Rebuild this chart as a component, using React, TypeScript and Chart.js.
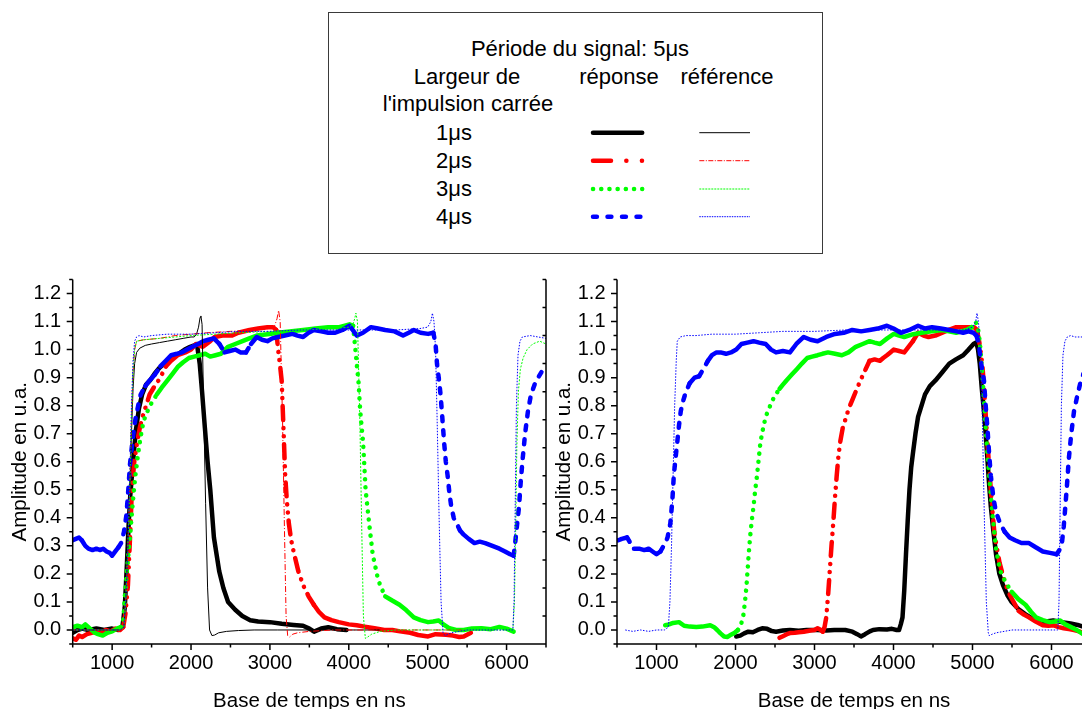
import React, { useEffect, useRef } from "react";
import { Chart, registerables } from "chart.js";

Chart.register(...registerables);

const FONT = "'Liberation Sans', Arial, Helvetica, sans-serif";

// ---- axes ----
const xRange = [500, 6500];
const yRange = [-0.05, 1.25];
const xMajorTicks = [1000, 2000, 3000, 4000, 5000, 6000];
const xMinorTicks = [500, 1500, 2500, 3500, 4500, 5500, 6500];
const yMajorTicks = [0, 0.1, 0.2, 0.3, 0.4, 0.5, 0.6, 0.7, 0.8, 0.9, 1.0, 1.1, 1.2];
const yMinorTicks = [-0.05, 0.05, 0.15, 0.25, 0.35, 0.45, 0.55, 0.65, 0.75, 0.85, 0.95, 1.05, 1.15, 1.25];

const xTitle = "Base de temps en ns";
const yTitle = "Amplitude en u.a.";
const legendTitle = "Période du signal: 5μs";
const legendHeadA = "Largeur de";
const legendHeadB = "l'impulsion carrée";
const legendHeadResp = "réponse";
const legendHeadRef = "référence";
const pulseWidths = ["1μs", "2μs", "3μs", "4μs"];
const seriesColors = ["#000000", "#ff0000", "#00ff00", "#0000ff"];

// ---- left panel: responses ----
const leftBlackRespX = [500, 560, 620, 700, 800, 900, 1000, 1080, 1130, 1160, 1185, 1210, 1230, 1250, 1275, 1300, 1340, 1380, 1430, 1480, 1540, 1600, 1680, 1760, 1840, 1920, 1990, 2040, 2075, 2110, 2140, 2176, 2210, 2244, 2290, 2357, 2410, 2470, 2560, 2650, 2750, 2850, 3000, 3150, 3300, 3420, 3500, 3560, 3650, 3740, 3850, 3970];
const leftBlackRespY = [-0.01, 0.0, 0.005, 0.0, 0.005, 0.0, 0.005, 0.0, 0.01, 0.08, 0.22, 0.38, 0.48, 0.55, 0.63, 0.71, 0.79, 0.84, 0.875, 0.89, 0.915, 0.935, 0.955, 0.97, 0.985, 1.0, 1.01, 1.015, 1.02, 0.95, 0.85, 0.72, 0.6, 0.5, 0.33, 0.21, 0.15, 0.1, 0.072, 0.05, 0.035, 0.03, 0.028, 0.022, 0.018, 0.015, 0.005, -0.006, 0.005, 0.01, 0.003, 0.0];

const leftRedRespX = [500, 540, 580, 620, 680, 740, 800, 860, 920, 980, 1040, 1100, 1140, 1170, 1200, 1230, 1250, 1280, 1317, 1350, 1385, 1430, 1475, 1540, 1611, 1680, 1747, 1830, 1928, 2000, 2063, 2150, 2244, 2300, 2400, 2516, 2600, 2742, 2850, 2968, 3040, 3080, 3104, 3130, 3149, 3172, 3194, 3215, 3240, 3270, 3308, 3360, 3421, 3490, 3557, 3620, 3692, 3780, 3873, 4000, 4100, 4200, 4326, 4450, 4552, 4650, 4778, 4880, 5005, 5100, 5231, 5320, 5400, 5457, 5548];
const leftRedRespY = [-0.03, -0.035, -0.02, -0.025, -0.015, -0.01, -0.005, -0.01, 0.0, -0.005, 0.005, 0.0, 0.01, 0.06, 0.16, 0.35, 0.5, 0.6, 0.67, 0.72, 0.76, 0.8, 0.84, 0.87, 0.9, 0.94, 0.96, 0.98, 0.99, 1.0, 1.02, 1.01, 1.03, 1.045, 1.05, 1.05, 1.06, 1.07, 1.075, 1.08, 1.08, 1.07, 1.0, 0.94, 0.89, 0.72, 0.55, 0.46, 0.38, 0.32, 0.27, 0.21, 0.16, 0.12, 0.09, 0.065, 0.045, 0.035, 0.028, 0.02, 0.017, 0.012, 0.006, 0.0, 0.0, -0.005, -0.01, -0.018, -0.023, -0.015, -0.017, -0.02, -0.025, -0.023, -0.01];

const leftGreenRespX = [500, 560, 620, 660, 720, 780, 820, 880, 940, 1000, 1060, 1110, 1140, 1158, 1190, 1226, 1260, 1294, 1330, 1362, 1395, 1430, 1500, 1566, 1630, 1701, 1770, 1837, 1900, 1973, 2040, 2109, 2180, 2244, 2310, 2380, 2430, 2470, 2560, 2652, 2740, 2833, 2970, 3104, 3250, 3421, 3580, 3738, 3880, 4009, 4054, 4077, 4100, 4122, 4145, 4181, 4213, 4258, 4303, 4371, 4420, 4462, 4550, 4643, 4730, 4824, 4910, 5005, 5070, 5140, 5200, 5276, 5360, 5457, 5560, 5683, 5800, 5910, 6000, 6090];
const leftGreenRespY = [0.01, 0.015, 0.01, 0.02, 0.005, -0.01, -0.015, -0.02, -0.01, -0.005, 0.005, 0.01, 0.03, 0.11, 0.22, 0.33, 0.45, 0.55, 0.63, 0.69, 0.74, 0.77, 0.81, 0.84, 0.865, 0.89, 0.915, 0.94, 0.955, 0.97, 0.975, 0.98, 0.985, 0.975, 0.98, 0.985, 1.0, 1.01, 1.02, 1.03, 1.04, 1.05, 1.055, 1.06, 1.065, 1.07, 1.075, 1.08, 1.08, 1.09, 1.085, 1.02, 0.95, 0.89, 0.78, 0.67, 0.5, 0.38, 0.27, 0.18, 0.145, 0.12, 0.105, 0.09, 0.07, 0.045, 0.035, 0.028, 0.03, 0.034, 0.02, 0.006, 0.0, 0.0, 0.005, 0.006, 0.003, 0.011, 0.005, -0.006];

const leftBlueRespX = [500, 540, 580, 615, 660, 700, 751, 800, 850, 887, 930, 970, 1000, 1040, 1080, 1113, 1150, 1181, 1205, 1226, 1260, 1294, 1330, 1362, 1420, 1475, 1540, 1611, 1680, 1747, 1820, 1882, 1950, 2018, 2090, 2154, 2220, 2290, 2360, 2425, 2490, 2561, 2630, 2697, 2760, 2833, 2900, 2968, 3030, 3104, 3190, 3285, 3350, 3421, 3490, 3557, 3650, 3740, 3828, 3920, 4009, 4050, 4100, 4180, 4281, 4370, 4462, 4580, 4688, 4760, 4824, 4910, 5005, 5072, 5100, 5118, 5140, 5163, 5185, 5208, 5230, 5253, 5275, 5299, 5330, 5367, 5410, 5457, 5520, 5593, 5660, 5729, 5820, 5910, 5980, 6045, 6090, 6113, 6135, 6158, 6180, 6204, 6235, 6271, 6310, 6362, 6400, 6443];
const leftBlueRespY = [0.32, 0.325, 0.33, 0.32, 0.3, 0.29, 0.285, 0.29, 0.285, 0.29, 0.28, 0.275, 0.265, 0.28, 0.295, 0.31, 0.35, 0.41, 0.5, 0.59, 0.68, 0.75, 0.8, 0.84, 0.87, 0.89, 0.91, 0.94, 0.96, 0.98, 0.985, 0.99, 1.0, 1.01, 1.02, 1.03, 1.035, 1.04, 1.02, 0.99, 0.995, 1.0, 0.99, 0.99, 1.02, 1.045, 1.035, 1.03, 1.04, 1.045, 1.05, 1.056, 1.05, 1.045, 1.06, 1.07, 1.065, 1.06, 1.06, 1.07, 1.085, 1.07, 1.05, 1.06, 1.08, 1.075, 1.07, 1.065, 1.05, 1.06, 1.07, 1.06, 1.056, 1.06, 1.02, 0.95, 0.9, 0.84, 0.76, 0.67, 0.6, 0.55, 0.49, 0.44, 0.4, 0.38, 0.355, 0.34, 0.325, 0.31, 0.315, 0.31, 0.3, 0.29, 0.28, 0.27, 0.265, 0.32, 0.38, 0.44, 0.53, 0.61, 0.7, 0.78, 0.84, 0.88, 0.9, 0.92];

// ---- left panel: references ----
const leftBlackRefX = [500, 700, 900, 1100, 1150, 1175, 1200, 1225, 1245, 1265, 1285, 1310, 1350, 1420, 1500, 1600, 1700, 1800, 1900, 2000, 2040, 2070, 2095, 2115, 2125, 2140, 2160, 2185, 2210, 2235, 2265, 2300, 2350, 2450, 2600, 2800, 3100, 3500, 3900, 4400];
const leftBlackRefY = [0, 0, 0, 0, 0.01, 0.12, 0.3, 0.5, 0.7, 0.86, 0.95, 0.99, 1.005, 1.015, 1.02, 1.025, 1.03, 1.035, 1.04, 1.045, 1.045, 1.055, 1.08, 1.115, 1.12, 1.09, 0.8, 0.45, 0.15, 0.0, -0.02, -0.018, -0.01, -0.005, -0.002, 0, 0, 0, 0, 0];

const leftRedRefX = [500, 800, 1100, 1150, 1175, 1200, 1225, 1245, 1265, 1285, 1310, 1400, 1600, 1800, 2000, 2200, 2500, 2800, 3000, 3060, 3090, 3110, 3130, 3160, 3185, 3205, 3225, 3250, 3290, 3350, 3500, 3800, 4200, 4800, 5500];
const leftRedRefY = [0, 0, 0, 0.01, 0.12, 0.3, 0.52, 0.75, 0.92, 1.0, 1.03, 1.035, 1.04, 1.05, 1.055, 1.06, 1.065, 1.07, 1.075, 1.085, 1.11, 1.14, 1.1, 0.75, 0.35, 0.05, -0.02, -0.025, -0.015, -0.01, -0.005, 0, 0, 0, 0];

const leftGreenRefX = [500, 800, 1100, 1150, 1175, 1200, 1225, 1245, 1265, 1285, 1310, 1400, 1600, 1800, 2000, 2300, 2600, 3000, 3400, 3800, 4000, 4050, 4075, 4090, 4110, 4140, 4165, 4185, 4210, 4240, 4290, 4400, 4600, 5000, 5500, 6000, 6080, 6100, 6115, 6130, 6150, 6175, 6210, 6260, 6330, 6420, 6500];
const leftGreenRefY = [0, 0, 0, 0.01, 0.12, 0.3, 0.52, 0.75, 0.92, 1.0, 1.03, 1.035, 1.04, 1.045, 1.05, 1.055, 1.06, 1.065, 1.07, 1.075, 1.08, 1.09, 1.11, 1.13, 1.1, 0.75, 0.35, 0.05, -0.03, -0.025, -0.015, -0.005, 0, 0, 0, 0, 0, 0.1, 0.35, 0.65, 0.85, 0.93, 0.97, 1.0, 1.02, 1.03, 1.02];

const leftBlueRefX = [500, 800, 1100, 1150, 1175, 1200, 1225, 1245, 1265, 1285, 1310, 1340, 1400, 1500, 1700, 2000, 2300, 2600, 3000, 3400, 3800, 4200, 4600, 4900, 5000, 5040, 5060, 5080, 5100, 5120, 5145, 5170, 5195, 5220, 5300, 5500, 5800, 6080, 6095, 6110, 6125, 6145, 6170, 6200, 6300, 6400, 6500];
const leftBlueRefY = [0, 0, 0, 0.01, 0.12, 0.3, 0.55, 0.8, 0.96, 1.03, 1.045, 1.05, 1.045, 1.05, 1.055, 1.055, 1.06, 1.065, 1.065, 1.07, 1.07, 1.07, 1.07, 1.075, 1.08, 1.1, 1.13, 1.1, 1.0, 0.75, 0.4, 0.1, -0.01, -0.02, -0.01, 0, 0, 0, 0.1, 0.45, 0.8, 0.98, 1.03, 1.045, 1.05, 1.045, 1.04];

// ---- right panel: responses ----
const rightBlackRespX = [2009, 2060, 2110, 2162, 2220, 2280, 2338, 2400, 2460, 2513, 2600, 2689, 2800, 2900, 3039, 3150, 3250, 3390, 3480, 3540, 3588, 3640, 3700, 3741, 3820, 3917, 3980, 4040, 4070, 4092, 4114, 4136, 4158, 4180, 4202, 4224, 4246, 4278, 4311, 4355, 4399, 4460, 4531, 4620, 4706, 4790, 4882, 4950, 5013, 5048, 5070, 5092, 5118, 5145, 5167, 5189, 5210, 5232, 5265, 5298, 5340, 5386, 5440, 5496, 5580, 5671, 5760, 5846, 5930, 6022, 6130, 6241, 6330, 6408];
const rightBlackRespY = [-0.023, -0.02, -0.012, -0.006, -0.008, 0.0, 0.006, 0.004, -0.004, -0.006, -0.002, 0.0, -0.003, 0.0, 0.0, -0.002, 0.0, 0.0, -0.006, -0.015, -0.023, -0.015, -0.005, 0.0, 0.003, 0.002, 0.004, 0.0, 0.0, 0.02, 0.045, 0.14, 0.27, 0.39, 0.5, 0.58, 0.63, 0.7, 0.76, 0.8, 0.84, 0.87, 0.89, 0.92, 0.95, 0.965, 0.98, 1.0, 1.02, 1.026, 1.0, 0.95, 0.86, 0.78, 0.7, 0.61, 0.52, 0.44, 0.35, 0.27, 0.2, 0.16, 0.125, 0.1, 0.075, 0.056, 0.04, 0.028, 0.03, 0.034, 0.028, 0.023, 0.018, 0.011];

const rightRedRespX = [2557, 2600, 2650, 2689, 2750, 2800, 2864, 2950, 3000, 3039, 3080, 3105, 3127, 3149, 3171, 3193, 3215, 3237, 3259, 3281, 3303, 3325, 3357, 3390, 3434, 3478, 3522, 3566, 3630, 3697, 3760, 3829, 3870, 3917, 3960, 4004, 4070, 4136, 4190, 4246, 4311, 4380, 4443, 4530, 4618, 4700, 4794, 4880, 4969, 5020, 5057, 5090, 5123, 5145, 5167, 5189, 5211, 5232, 5254, 5276, 5310, 5342, 5400, 5452, 5520, 5584, 5650, 5715, 5800, 5890, 5960, 6022, 6090, 6154, 6220, 6285, 6350, 6408];
const rightRedRespY = [-0.028, -0.022, -0.015, -0.011, -0.01, -0.008, -0.006, -0.002, 0.0, 0.006, 0.0, -0.006, 0.01, 0.045, 0.12, 0.21, 0.3, 0.38, 0.47, 0.55, 0.62, 0.67, 0.72, 0.75, 0.79, 0.82, 0.85, 0.88, 0.92, 0.96, 0.965, 0.96, 0.97, 0.98, 0.99, 1.0, 0.995, 0.99, 1.01, 1.03, 1.06, 1.05, 1.045, 1.05, 1.06, 1.07, 1.08, 1.08, 1.08, 1.08, 1.07, 1.02, 0.95, 0.87, 0.77, 0.67, 0.58, 0.5, 0.42, 0.35, 0.29, 0.24, 0.18, 0.136, 0.1, 0.068, 0.055, 0.045, 0.03, 0.017, 0.015, 0.017, 0.01, 0.006, 0.003, 0.0, -0.005, -0.011];

const rightGreenRespX = [1110, 1160, 1210, 1285, 1350, 1420, 1504, 1580, 1680, 1730, 1768, 1810, 1855, 1900, 1943, 1990, 2031, 2070, 2096, 2120, 2140, 2162, 2184, 2206, 2228, 2250, 2272, 2294, 2316, 2350, 2382, 2425, 2469, 2510, 2557, 2600, 2645, 2710, 2776, 2840, 2908, 2970, 3039, 3100, 3171, 3260, 3346, 3430, 3522, 3610, 3697, 3760, 3829, 3920, 4004, 4070, 4136, 4250, 4355, 4480, 4618, 4700, 4794, 4860, 4925, 4990, 5035, 5057, 5079, 5101, 5123, 5145, 5167, 5189, 5211, 5232, 5254, 5276, 5298, 5330, 5364, 5430, 5496, 5580, 5671, 5740, 5803, 5890, 5978, 6040, 6110, 6175, 6241, 6320, 6408];
const rightGreenRespY = [0.017, 0.02, 0.025, 0.028, 0.015, 0.012, 0.011, 0.012, 0.017, 0.01, 0.0, -0.012, -0.023, -0.025, -0.017, -0.01, 0.0, 0.02, 0.045, 0.1, 0.16, 0.25, 0.33, 0.39, 0.44, 0.5, 0.55, 0.61, 0.67, 0.72, 0.76, 0.79, 0.82, 0.84, 0.86, 0.875, 0.89, 0.91, 0.93, 0.95, 0.97, 0.975, 0.98, 0.985, 0.99, 0.985, 0.98, 0.99, 1.01, 1.02, 1.03, 1.025, 1.02, 1.04, 1.056, 1.05, 1.045, 1.055, 1.06, 1.065, 1.07, 1.065, 1.06, 1.065, 1.07, 1.08, 1.1, 1.09, 1.06, 1.0, 0.92, 0.82, 0.72, 0.63, 0.55, 0.48, 0.41, 0.35, 0.29, 0.24, 0.2, 0.165, 0.136, 0.11, 0.09, 0.065, 0.045, 0.035, 0.028, 0.03, 0.034, 0.02, 0.011, 0.0, -0.017];

const rightBlueRespX = [500, 518, 560, 627, 670, 715, 780, 846, 900, 950, 1000, 1050, 1110, 1140, 1175, 1200, 1219, 1240, 1263, 1285, 1307, 1340, 1373, 1420, 1482, 1540, 1592, 1650, 1702, 1760, 1811, 1880, 1943, 2010, 2075, 2150, 2228, 2300, 2382, 2450, 2513, 2600, 2689, 2770, 2864, 2950, 3039, 3150, 3259, 3370, 3478, 3590, 3697, 3800, 3917, 4000, 4092, 4200, 4311, 4400, 4487, 4600, 4706, 4800, 4882, 4950, 5013, 5050, 5079, 5110, 5145, 5167, 5189, 5210, 5232, 5265, 5298, 5350, 5408, 5470, 5539, 5620, 5715, 5800, 5890, 5980, 6066, 6100, 6132, 6155, 6175, 6197, 6219, 6250, 6285, 6330, 6373, 6408, 6440];
const rightBlueRespY = [0.32, 0.32, 0.325, 0.33, 0.31, 0.29, 0.29, 0.285, 0.29, 0.28, 0.27, 0.28, 0.31, 0.33, 0.38, 0.46, 0.55, 0.61, 0.67, 0.73, 0.78, 0.82, 0.85, 0.88, 0.9, 0.905, 0.93, 0.96, 0.98, 0.99, 0.99, 0.985, 0.99, 1.0, 1.02, 1.025, 1.03, 1.025, 1.02, 1.0, 0.99, 0.995, 0.99, 1.02, 1.045, 1.035, 1.03, 1.045, 1.056, 1.06, 1.07, 1.065, 1.07, 1.075, 1.085, 1.075, 1.06, 1.07, 1.085, 1.075, 1.08, 1.075, 1.07, 1.065, 1.06, 1.065, 1.06, 1.05, 1.02, 0.95, 0.89, 0.8, 0.72, 0.63, 0.55, 0.47, 0.42, 0.38, 0.35, 0.33, 0.32, 0.31, 0.31, 0.295, 0.28, 0.275, 0.27, 0.285, 0.31, 0.37, 0.44, 0.52, 0.61, 0.7, 0.78, 0.84, 0.89, 0.915, 0.925];

// ---- right panel: reference (4 µs) ----
const rightBlueRefX = [605, 700, 800, 900, 1000, 1100, 1150, 1170, 1190, 1210, 1230, 1250, 1263, 1300, 1373, 1500, 1700, 2000, 2300, 2600, 3000, 3400, 3800, 4200, 4600, 4900, 5000, 5040, 5057, 5075, 5100, 5125, 5150, 5175, 5200, 5211, 5250, 5300, 5400, 5500, 5700, 5900, 6080, 6095, 6110, 6125, 6145, 6170, 6200, 6241, 6300, 6400, 6500];
const rightBlueRefY = [0, -0.005, 0.0, -0.005, 0.0, 0.0, 0.01, 0.1, 0.3, 0.55, 0.8, 0.96, 1.03, 1.045, 1.05, 1.05, 1.055, 1.055, 1.06, 1.065, 1.065, 1.07, 1.07, 1.07, 1.07, 1.07, 1.08, 1.1, 1.13, 1.1, 1.0, 0.75, 0.4, 0.1, -0.01, -0.02, -0.015, -0.01, -0.005, 0, 0, 0, 0, 0.1, 0.45, 0.8, 0.98, 1.03, 1.045, 1.05, 1.045, 1.045, 1.04];

// ---- styling helpers ----
const respDash: (number[] | null)[] = [null, [14, 8, 0.1, 8, 0.1, 8], [0.1, 8], [5, 9]];
const refDash: number[][] = [[], [6, 2, 1, 2], [2, 1.5], [1.5, 1.5]];

const pts = (xs: number[], ys: number[]) => xs.map((x, i) => ({ x, y: ys[i] }));
const steep = (c: any) => Math.abs(c.p1.y - c.p0.y) > 1.5 * Math.abs(c.p1.x - c.p0.x);

function respSet(xs: number[], ys: number[], idx: number) {
  const pattern = respDash[idx];
  return {
    data: pts(xs, ys),
    borderColor: seriesColors[idx],
    borderWidth: 4.5,
    pointRadius: 0,
    borderCapStyle: "round",
    borderJoinStyle: "round",
    tension: 0,
    fill: false,
    borderDash: [],
    order: 8 - idx,
    segment: pattern ? { borderDash: (c: any) => (steep(c) ? pattern : undefined) } : undefined,
  };
}

function refSet(xs: number[], ys: number[], idx: number) {
  return {
    data: pts(xs, ys),
    borderColor: seriesColors[idx],
    borderWidth: 1,
    pointRadius: 0,
    tension: 0,
    fill: false,
    borderDash: refDash[idx],
    order: 4 - idx,
  };
}

const framePlugin = {
  id: "frame",
  afterDraw(chart: any) {
    const { ctx, chartArea: a } = chart;
    const xs = chart.scales.x;
    const ys = chart.scales.y;
    ctx.save();
    ctx.strokeStyle = "#000";
    ctx.lineWidth = 1.5;
    ctx.lineCap = "butt";
    ctx.beginPath();
    ctx.moveTo(a.left, a.top);
    ctx.lineTo(a.left, a.bottom);
    ctx.lineTo(a.right, a.bottom);
    ctx.moveTo(a.right, a.top);
    ctx.lineTo(a.right, a.bottom);
    xMajorTicks.forEach((v) => {
      const p = xs.getPixelForValue(v);
      ctx.moveTo(p, a.bottom);
      ctx.lineTo(p, a.bottom + 6);
    });
    xMinorTicks.forEach((v) => {
      const p = xs.getPixelForValue(v);
      ctx.moveTo(p, a.bottom);
      ctx.lineTo(p, a.bottom + 3.5);
    });
    yMajorTicks.forEach((v) => {
      const p = ys.getPixelForValue(v);
      ctx.moveTo(a.left, p);
      ctx.lineTo(a.left - 6, p);
    });
    yMinorTicks.forEach((v) => {
      const p = ys.getPixelForValue(v);
      ctx.moveTo(a.left, p);
      ctx.lineTo(a.left - 3.5, p);
      ctx.moveTo(a.right, p);
      ctx.lineTo(a.right - 3.5, p);
    });
    ctx.stroke();
    ctx.restore();
  },
};

function makeConfig(datasets: any[], yAxisWidth: number): any {
  return {
    type: "line",
    data: { datasets },
    plugins: [framePlugin],
    options: {
      responsive: false,
      animation: false,
      events: [],
      layout: { padding: { left: 0, right: 14, top: 5, bottom: 0 } },
      plugins: { legend: { display: false }, tooltip: { enabled: false } },
      scales: {
        x: {
          type: "linear",
          min: xRange[0],
          max: xRange[1],
          afterBuildTicks: (s: any) => {
            s.ticks = xMajorTicks.map((value) => ({ value }));
          },
          afterFit: (s: any) => {
            s.height = 65;
          },
          grid: { display: false, drawTicks: false },
          border: { display: false },
          ticks: {
            autoSkip: false,
            maxRotation: 0,
            padding: 7.5,
            color: "#000",
            font: { family: FONT, size: 20 },
            callback: (v: any) => String(v),
          },
          title: {
            display: true,
            text: xTitle,
            color: "#000",
            font: { family: FONT, size: 20.5 },
            padding: { top: 0, bottom: -4.5 },
          },
        },
        y: {
          type: "linear",
          min: yRange[0],
          max: yRange[1],
          afterBuildTicks: (s: any) => {
            s.ticks = yMajorTicks.map((value) => ({ value }));
          },
          afterFit: (s: any) => {
            s.width = yAxisWidth;
          },
          grid: { display: false, drawTicks: false },
          border: { display: false },
          ticks: {
            autoSkip: false,
            padding: 11.5,
            color: "#000",
            font: { family: FONT, size: 20 },
            callback: (v: any) => Number(v).toFixed(1),
          },
          title: {
            display: true,
            text: yTitle,
            color: "#000",
            font: { family: FONT, size: 20.5 },
            padding: { top: 8.3, bottom: 0 },
          },
        },
      },
    },
  };
}

const T = ({ cx, base, size = 22, children }: any) => (
  <span
    style={{
      position: "absolute",
      left: cx,
      top: base - 0.8465 * size,
      transform: "translateX(-50%)",
      fontSize: size,
      lineHeight: `${size}px`,
      whiteSpace: "nowrap",
      color: "#000",
    }}
  >
    {children}
  </span>
);

const legendRowsY = [132.7, 160.7, 189, 216.7];
const respSampleDash = ["", "18 15.3 0.1 15.5 0.1 100", "0.1 8.1", "3.9 10.6"];
const refSampleDash = ["", "5 1.5 1 1.5", "2 1", "1.5 1"];

export default function App() {
  const leftRef = useRef<HTMLCanvasElement>(null);
  const rightRef = useRef<HTMLCanvasElement>(null);

  useEffect(() => {
    Chart.defaults.font.family = FONT;
    const leftSets = [
      refSet(leftBlueRefX, leftBlueRefY, 3),
      refSet(leftGreenRefX, leftGreenRefY, 2),
      refSet(leftRedRefX, leftRedRefY, 1),
      refSet(leftBlackRefX, leftBlackRefY, 0),
      respSet(leftBlueRespX, leftBlueRespY, 3),
      respSet(leftGreenRespX, leftGreenRespY, 2),
      respSet(leftRedRespX, leftRedRespY, 1),
      respSet(leftBlackRespX, leftBlackRespY, 0),
    ];
    const rightSets = [
      refSet(rightBlueRefX, rightBlueRefY, 3),
      respSet(rightBlueRespX, rightBlueRespY, 3),
      respSet(rightGreenRespX, rightGreenRespY, 2),
      respSet(rightRedRespX, rightRedRespY, 1),
      respSet(rightBlackRespX, rightBlackRespY, 0),
    ];
    const c1 = new Chart(leftRef.current as HTMLCanvasElement, makeConfig(leftSets, 72.7));
    const c2 = new Chart(rightRef.current as HTMLCanvasElement, makeConfig(rightSets, 73));
    return () => {
      c1.destroy();
      c2.destroy();
    };
  }, []);

  return (
    <div
      style={{
        position: "fixed",
        left: 0,
        top: 0,
        width: 1082,
        height: 709,
        overflow: "hidden",
        background: "#fff",
        fontFamily: FONT,
      }}
    >
      <canvas
        ref={leftRef}
        width={560}
        height={453}
        style={{ position: "absolute", left: 0, top: 256, width: 560, height: 453 }}
      />
      <canvas
        ref={rightRef}
        width={561}
        height={453}
        style={{ position: "absolute", left: 544, top: 256, width: 561, height: 453 }}
      />
      <div
        style={{
          position: "absolute",
          left: 328,
          top: 12,
          width: 495,
          height: 242,
          border: "1px solid #3a3a3a",
          boxSizing: "border-box",
        }}
      />
      <T cx={580} base={56.5}>{legendTitle}</T>
      <T cx={467} base={85}>{legendHeadA}</T>
      <T cx={619} base={85}>{legendHeadResp}</T>
      <T cx={727} base={85}>{legendHeadRef}</T>
      <T cx={468} base={112}>{legendHeadB}</T>
      {pulseWidths.map((w, i) => (
        <T key={w} cx={454} base={legendRowsY[i] + 8}>
          {w}
        </T>
      ))}
      <svg
        width={1082}
        height={260}
        style={{ position: "absolute", left: 0, top: 0, pointerEvents: "none" }}
      >
        {seriesColors.map((c, i) => (
          <g key={c}>
            <line
              x1={593}
              x2={642.2}
              y1={legendRowsY[i]}
              y2={legendRowsY[i]}
              stroke={c}
              strokeWidth={4.5}
              strokeLinecap="round"
              strokeDasharray={respSampleDash[i] || undefined}
            />
            <line
              x1={699.3}
              x2={750}
              y1={legendRowsY[i]}
              y2={legendRowsY[i]}
              stroke={c}
              strokeWidth={1}
              strokeDasharray={refSampleDash[i] || undefined}
            />
          </g>
        ))}
      </svg>
    </div>
  );
}
